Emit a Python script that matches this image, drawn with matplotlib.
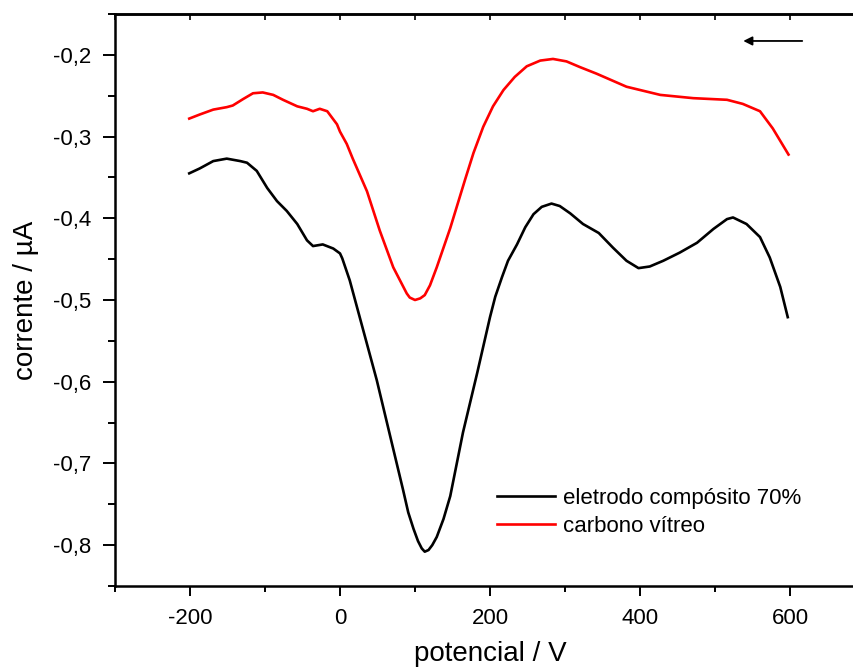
import matplotlib
matplotlib.use("Agg")
import matplotlib.pyplot as plt
from matplotlib.ticker import MultipleLocator, FuncFormatter
import numpy as np

# potencial (V) and corrente (uA)
x_compos = [-201, -187, -169, -151, -133, -124, -111, -97, -84, -71, -57, -44, -36, -23, -9,
            0, 3, 13, 31, 49, 67, 84, 91, 98, 104, 109, 113, 118, 123, 129, 138, 147, 164,
            183, 200, 207, 216, 224, 236, 247, 258, 269, 282, 293, 307, 324, 345, 364, 382,
            398, 413, 431, 453, 476, 498, 516, 524, 542, 560, 573, 587, 597]
y_compos = [-0.345, -0.339, -0.330, -0.327, -0.330, -0.332, -0.342, -0.363, -0.379, -0.391,
            -0.407, -0.427, -0.434, -0.432, -0.437, -0.443, -0.449, -0.476, -0.537, -0.598,
            -0.667, -0.732, -0.760, -0.780, -0.795, -0.804, -0.808, -0.806, -0.800, -0.790,
            -0.768, -0.740, -0.662, -0.589, -0.521, -0.496, -0.472, -0.452, -0.432, -0.411,
            -0.395, -0.386, -0.382, -0.385, -0.394, -0.407, -0.418, -0.436, -0.452, -0.461,
            -0.459, -0.452, -0.442, -0.430, -0.413, -0.401, -0.399, -0.407, -0.423, -0.448,
            -0.484, -0.521]

x_vitreo = [-201, -187, -169, -151, -143, -129, -116, -103, -89, -76, -57, -44, -36, -27, -17,
            -4, 0, 9, 17, 36, 53, 71, 89, 93, 100, 107, 113, 120, 129, 147, 167, 178, 191, 204,
            218, 233, 249, 267, 284, 302, 320, 342, 382, 427, 471, 516, 537, 560, 577, 598]
y_vitreo = [-0.278, -0.273, -0.267, -0.264, -0.262, -0.254, -0.247, -0.246, -0.249, -0.255,
            -0.263, -0.266, -0.269, -0.266, -0.269, -0.285, -0.294, -0.309, -0.327, -0.367,
            -0.415, -0.460, -0.492, -0.497, -0.500, -0.498, -0.494, -0.482, -0.460, -0.412,
            -0.352, -0.320, -0.288, -0.263, -0.243, -0.227, -0.214, -0.207, -0.205, -0.208,
            -0.215, -0.223, -0.239, -0.249, -0.253, -0.255, -0.260, -0.269, -0.290, -0.322]

labels = ["eletrodo compósito 70%", "carbono vítreo"]

plt.rcParams['font.family'] = ['Liberation Sans', 'DejaVu Sans']
plt.rcParams['axes.unicode_minus'] = False

fig = plt.figure(figsize=(8.54, 6.72), dpi=100)
ax = fig.add_axes([115 / 854, 86 / 672, 750 / 854, 572 / 672])

ax.plot(x_compos, y_compos, color='black', lw=1.9, label=labels[0])
ax.plot(x_vitreo, y_vitreo, color='#ff0000', lw=1.9, label=labels[1])

ax.set_xlim(-300, 700)
ax.set_ylim(-0.85, -0.15)

ax.xaxis.set_major_locator(MultipleLocator(200))
ax.xaxis.set_minor_locator(MultipleLocator(100))
ax.yaxis.set_major_locator(MultipleLocator(0.1))
ax.yaxis.set_minor_locator(MultipleLocator(0.05))
ax.yaxis.set_major_formatter(FuncFormatter(lambda v, p: f"{v:.1f}".replace('.', ',')))

ax.tick_params(axis='x', which='major', length=7.2, width=1.4, labelsize=16, pad=9)
ax.tick_params(axis='x', which='minor', length=4, width=1.4)
ax.tick_params(axis='y', which='major', length=9, width=1.4, labelsize=16, pad=8)
ax.tick_params(axis='y', which='minor', length=5, width=1.4)
ax.tick_params(which='both', direction='out', top=False, right=False)
for s in ax.spines.values():
    s.set_linewidth(1.8)

# inward ticks on the top spine
secax = ax.secondary_xaxis('top')
secax.set_xticks(np.arange(-300, 701, 100))
secax.tick_params(direction='in', length=4, width=1.2, labeltop=False)
secax.spines['top'].set_linewidth(1.8)

ax.set_xlabel("potencial / V", fontsize=20, labelpad=8)
ax.set_ylabel("corrente / µA", fontsize=20, labelpad=10)

ax.legend(loc='upper left', bbox_to_anchor=((497 - 115) / 750, (586 - 488) / 572),
          frameon=False, fontsize=16, handlelength=2.6, handletextpad=0.35,
          labelspacing=0.3, borderpad=0, borderaxespad=0)

# scan direction arrow
ax.annotate('', xy=(534, -0.183), xytext=(620, -0.183),
            arrowprops=dict(arrowstyle='-|>', color='black', lw=1.3, mutation_scale=13))

fig.savefig("out.png", dpi=100)
